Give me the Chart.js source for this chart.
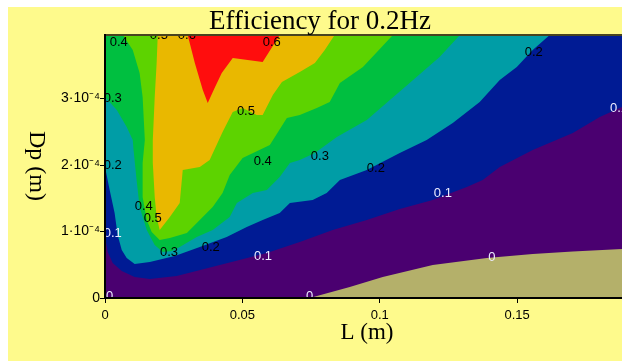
<!DOCTYPE html>
<html>
<head>
<meta charset="utf-8">
<script src="https://cdn.jsdelivr.net/npm/chart.js@4.4.1/dist/chart.umd.min.js"></script>
<style>
  html, body { margin: 0; padding: 0; background: #ffffff; }
  canvas { display: block; }
</style>
</head>
<body>
<canvas id="chart" width="622" height="361"></canvas>
<script>
// Axis ticks
const xTicks = [0, 0.05, 0.1, 0.15];
const yTicks = [0, 1e-4, 2e-4, 3e-4];
const yTickLabels = ['0', '1·10⁻⁴', '2·10⁻⁴', '3·10⁻⁴'];

// Efficiency bands: each region is the closed outline (L [m], Dp [m]) of one band level,
// painted from the lowest level up so the higher bands sit on top.
const bandNames  = ['≥0', '<0', '≥0.1', '≥0.2', '≥0.3', '≥0.4', '≥0.5', '≥0.6'];
const bandColors = ['#4a0070', '#b4b06a', '#001b94', '#009da6', '#00bf40', '#5dd300', '#e9b800', '#ff0d0d'];

const regionAtLeast0 = [[-0.005, -0.2e-4], [0.2, -0.2e-4], [0.2, 4.2e-4], [-0.005, 4.2e-4]];

const regionBelow0 = [
  [0.0700, -0.2e-4], [0.0745, 0], [0.0891, 0.165e-4], [0.1011, 0.316e-4], [0.1193, 0.496e-4],
  [0.1390, 0.602e-4], [0.1557, 0.662e-4], [0.1703, 0.700e-4], [0.1882, 0.737e-4], [0.2, 0.767e-4],
  [0.2, -0.2e-4]
];

const regionAtLeast01 = [
  [-0.005, 0.95e-4], [0, 0.917e-4], [0.0010, 0.692e-4], [0.0028, 0.526e-4], [0.0061, 0.406e-4],
  [0.0108, 0.316e-4], [0.0163, 0.286e-4], [0.0261, 0.331e-4], [0.0418, 0.496e-4], [0.0589, 0.677e-4],
  [0.0709, 0.842e-4], [0.0829, 1.023e-4], [0.0953, 1.173e-4], [0.1073, 1.338e-4], [0.1193, 1.474e-4],
  [0.1317, 1.669e-4], [0.1375, 1.774e-4], [0.1437, 1.970e-4], [0.1557, 2.226e-4], [0.1703, 2.481e-4],
  [0.1801, 2.722e-4], [0.1882, 2.872e-4], [0.2, 3.008e-4], [0.2, 4.2e-4], [-0.005, 4.2e-4]
];

const regionAtLeast02 = [
  [-0.005, 1.99e-4], [0, 1.970e-4], [0.0017, 1.624e-4], [0.0035, 1.278e-4], [0.0046, 0.947e-4],
  [0.0061, 0.722e-4], [0.0079, 0.602e-4], [0.0108, 0.511e-4], [0.0163, 0.541e-4], [0.0254, 0.632e-4],
  [0.0345, 0.767e-4], [0.0443, 0.917e-4], [0.0516, 1.068e-4], [0.0574, 1.173e-4], [0.0636, 1.278e-4],
  [0.0673, 1.429e-4], [0.0756, 1.474e-4], [0.0807, 1.579e-4], [0.0855, 1.774e-4], [0.0953, 1.925e-4],
  [0.1073, 2.180e-4], [0.1171, 2.376e-4], [0.1266, 2.632e-4], [0.1364, 2.947e-4], [0.1437, 3.278e-4],
  [0.1499, 3.474e-4], [0.1557, 3.729e-4], [0.1619, 3.955e-4], [0.1664, 4.2e-4], [-0.005, 4.2e-4]
];

const regionAtLeast03 = [
  [-0.005, 3.04e-4], [0, 3.023e-4], [0.0043, 2.827e-4], [0.0079, 2.571e-4], [0.0101, 2.376e-4],
  [0.0104, 2.226e-4], [0.0115, 1.774e-4], [0.0126, 1.368e-4], [0.0152, 1.023e-4], [0.0181, 0.797e-4],
  [0.0210, 0.692e-4], [0.0243, 0.707e-4], [0.0272, 0.767e-4], [0.0334, 0.917e-4], [0.0392, 1.023e-4],
  [0.0454, 1.218e-4], [0.0480, 1.429e-4], [0.0538, 1.579e-4], [0.0589, 1.624e-4], [0.0636, 1.820e-4],
  [0.0673, 2.030e-4], [0.0709, 2.075e-4], [0.0764, 2.180e-4], [0.0844, 2.421e-4], [0.0953, 2.677e-4],
  [0.1037, 2.977e-4], [0.1109, 3.233e-4], [0.1218, 3.624e-4], [0.1292, 3.955e-4], [0.1336, 4.2e-4],
  [-0.005, 4.2e-4]
];

const regionAtLeast04 = [
  [0.0054, 4.2e-4], [0.0065, 3.955e-4], [0.0101, 3.729e-4], [0.0126, 3.383e-4], [0.0137, 3.023e-4],
  [0.0145, 2.376e-4], [0.0137, 2.030e-4], [0.0137, 1.519e-4], [0.0152, 1.173e-4], [0.0170, 0.992e-4],
  [0.0199, 0.872e-4], [0.0236, 0.902e-4], [0.0298, 0.977e-4], [0.0345, 1.173e-4], [0.0392, 1.368e-4],
  [0.0428, 1.579e-4], [0.0454, 1.850e-4], [0.0501, 2.105e-4], [0.0600, 2.301e-4], [0.0662, 2.707e-4],
  [0.0709, 2.752e-4], [0.0771, 2.857e-4], [0.0818, 2.947e-4], [0.0855, 3.233e-4], [0.0939, 3.474e-4],
  [0.1048, 3.955e-4], [0.1092, 4.2e-4]
];

const regionAtLeast05 = [
  [0.0192, 4.2e-4], [0.0192, 3.955e-4], [0.0188, 3.534e-4], [0.0181, 3.023e-4], [0.0174, 2.376e-4],
  [0.0174, 2.030e-4], [0.0181, 1.519e-4], [0.0188, 1.218e-4], [0.0199, 1.023e-4], [0.0236, 1.218e-4],
  [0.0272, 1.429e-4], [0.0283, 1.925e-4], [0.0345, 1.970e-4], [0.0381, 2.075e-4], [0.0428, 2.496e-4],
  [0.0465, 2.797e-4], [0.0501, 2.857e-4], [0.0552, 2.752e-4], [0.0574, 2.752e-4], [0.0611, 3.053e-4],
  [0.0644, 3.248e-4], [0.0709, 3.398e-4], [0.0764, 3.534e-4], [0.0800, 3.729e-4], [0.0836, 3.955e-4],
  [0.0873, 4.2e-4]
];

const regionAtLeast06 = [
  [0.0295, 4.2e-4], [0.0301, 3.955e-4], [0.0327, 3.534e-4], [0.0356, 3.128e-4], [0.0374, 2.932e-4],
  [0.0399, 3.158e-4], [0.0425, 3.383e-4], [0.0465, 3.609e-4], [0.0574, 3.549e-4], [0.0636, 3.955e-4],
  [0.0673, 4.2e-4]
];

// Contour labels: text, L, Dp, light (true = drawn in white on the dark bands)
const contourLabels = [
  ['0.4', 0.0050, 3.850e-4, false], ['0.5', 0.0196, 3.955e-4, false], ['0.6', 0.0298, 3.955e-4, false],
  ['0.6', 0.0607, 3.850e-4, false], ['0.3', 0.0028, 3.008e-4, false], ['0.2', 0.0028, 2.000e-4, false],
  ['0.1', 0.0028, 0.977e-4, true],  ['0',   0.0017, 0.030e-4, true],  ['0.4', 0.0141, 1.383e-4, false],
  ['0.5', 0.0174, 1.203e-4, false], ['0.3', 0.0233, 0.692e-4, false], ['0.2', 0.0385, 0.767e-4, false],
  ['0.1', 0.0575, 0.632e-4, true],  ['0.5', 0.0513, 2.812e-4, false], ['0.4', 0.0574, 2.060e-4, false],
  ['0.3', 0.0782, 2.135e-4, false], ['0.2', 0.0986, 1.955e-4, false], ['0.2', 0.1561, 3.699e-4, false],
  ['0.1', 0.1871, 2.857e-4, true],  ['0.1', 0.1230, 1.579e-4, true],  ['0',   0.1408, 0.617e-4, true],
  ['0',   0.0745, 0.030e-4, true]
];

const regions = [regionAtLeast0, regionBelow0, regionAtLeast01, regionAtLeast02,
                 regionAtLeast03, regionAtLeast04, regionAtLeast05, regionAtLeast06];

const toPoints = arr => arr.map(([x, y]) => ({ x, y }));

const datasets = regions.map((region, i) => ({
  label: bandNames[i],
  data: toPoints(region),
  showLine: true,
  fill: 'shape',
  backgroundColor: bandColors[i],
  borderColor: 'rgba(0,0,0,0)',
  borderWidth: 0,
  pointRadius: 0,
  pointHoverRadius: 0,
  tension: 0,
  order: regions.length - i
}));

// Page backdrop: white margin strip, pale yellow panel
const backdrop = {
  id: 'backdrop',
  beforeDraw(chart) {
    const ctx = chart.ctx;
    ctx.save();
    ctx.fillStyle = '#ffffff';
    ctx.fillRect(0, 0, chart.width, chart.height);
    ctx.fillStyle = '#fefa8c';
    ctx.fillRect(8, 7, chart.width - 8, chart.height - 7);
    ctx.restore();
  }
};

// Contour value labels and the frame line along the top of the plot
const contourText = {
  id: 'contourText',
  afterDatasetsDraw(chart) {
    const { ctx, chartArea: a, scales: { x, y } } = chart;
    ctx.save();
    ctx.beginPath();
    ctx.rect(a.left, a.top, a.right - a.left, a.bottom - a.top);
    ctx.clip();
    ctx.font = "13px 'Liberation Sans', Arial, sans-serif";
    ctx.textAlign = 'center';
    ctx.textBaseline = 'middle';
    for (const [text, lx, dp, light] of contourLabels) {
      ctx.fillStyle = light ? '#ececff' : '#000000';
      ctx.fillText(text, x.getPixelForValue(lx), y.getPixelForValue(dp));
    }
    ctx.restore();

    ctx.save();
    ctx.strokeStyle = '#48441f';
    ctx.lineWidth = 2;
    ctx.beginPath();
    ctx.moveTo(a.left - 1, a.top);
    ctx.lineTo(a.right, a.top);
    ctx.stroke();
    ctx.restore();
  }
};

// Chart title and axis titles
const titles = {
  id: 'titles',
  afterDraw(chart) {
    const ctx = chart.ctx;
    ctx.save();
    ctx.fillStyle = '#000000';
    ctx.textAlign = 'center';
    ctx.textBaseline = 'alphabetic';
    ctx.font = "27px 'Liberation Serif', 'Times New Roman', serif";
    ctx.fillText('Efficiency for 0.2Hz', 320, 29);

    ctx.font = "23px 'Liberation Serif', 'Times New Roman', serif";
    ctx.fillText('L (m)', 367, 339);

    ctx.translate(30, 166);
    ctx.rotate(Math.PI / 2);
    ctx.font = "24px 'Liberation Serif', 'Times New Roman', serif";
    ctx.fillText('Dp (m)', 0, 0);
    ctx.restore();
  }
};

new Chart(document.getElementById('chart'), {
  type: 'scatter',
  data: { datasets },
  options: {
    responsive: false,
    animation: false,
    devicePixelRatio: 1,
    events: [],
    layout: { padding: { top: 35, right: 0, bottom: 0, left: 0 } },
    plugins: {
      legend: { display: false },
      tooltip: { enabled: false },
      title: { display: false }
    },
    scales: {
      x: {
        type: 'linear',
        min: 0,
        max: 0.1882,
        afterFit(scale) { scale.height = 63; },
        afterBuildTicks(scale) { scale.ticks = xTicks.map(v => ({ value: v })); },
        ticks: {
          color: '#000000',
          padding: 5,
          maxRotation: 0,
          font: { family: "'Liberation Sans', Arial, sans-serif", size: 13 },
          callback: v => String(v)
        },
        grid: { drawOnChartArea: false, drawTicks: true, tickLength: 5, color: '#000000', lineWidth: 1, z: 1 },
        border: { display: true, color: '#000000', width: 2, z: 1 }
      },
      y: {
        type: 'linear',
        min: 0,
        max: 3.955e-4,
        afterFit(scale) { scale.width = 105; },
        afterBuildTicks(scale) { scale.ticks = yTicks.map(v => ({ value: v })); },
        ticks: {
          color: '#000000',
          padding: 0,
          font: { family: "'Liberation Sans', Arial, sans-serif", size: 14 },
          callback: (v, i) => yTickLabels[i]
        },
        grid: { drawOnChartArea: false, drawTicks: true, tickLength: 5, color: '#000000', lineWidth: 1, z: 1 },
        border: { display: true, color: '#000000', width: 2, z: 1 }
      }
    }
  },
  plugins: [backdrop, contourText, titles]
});
</script>
</body>
</html>
